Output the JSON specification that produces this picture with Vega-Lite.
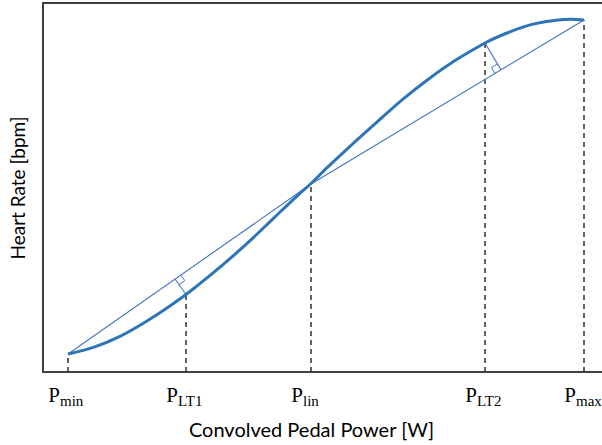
{
  "$schema": "https://vega.github.io/schema/vega-lite/v6.json",
  "width": 560,
  "height": 369,
  "autosize": "none",
  "padding": {"left": 43, "top": 3, "right": 0, "bottom": 73},
  "config": {
    "view": {"stroke": "#404040", "strokeWidth": 2},
    "axis": {"domain": false, "ticks": false, "labels": false, "grid": false, "titleFont": "Lato", "titleFontWeight": "normal", "titleFontSize": 19, "titleColor": "#000000"}
  },
  "datasets": {
    "curve": [
      {"x": 25, "y": 18}, {"x": 51, "y": 24.9}, {"x": 77, "y": 35.6}, {"x": 102, "y": 49.7},
      {"x": 128, "y": 66.7}, {"x": 143, "y": 77.5}, {"x": 154, "y": 86.1}, {"x": 180, "y": 107.4},
      {"x": 206, "y": 130.3}, {"x": 231, "y": 154.2}, {"x": 257, "y": 178.7}, {"x": 268, "y": 188.5},
      {"x": 283, "y": 203.3}, {"x": 309, "y": 227.5}, {"x": 335, "y": 250.9}, {"x": 360, "y": 272.9},
      {"x": 386, "y": 293.3}, {"x": 412, "y": 311.4}, {"x": 438, "y": 326.8}, {"x": 442, "y": 329},
      {"x": 464, "y": 339}, {"x": 489, "y": 347.6}, {"x": 515, "y": 352.1}, {"x": 528, "y": 352.7},
      {"x": 541, "y": 352}
    ],
    "chord": [{"x": 25, "y": 18}, {"x": 268, "y": 188}, {"x": 541, "y": 352}],
    "marks": [
      {"sub": "min", "x": 25, "y": 18},
      {"sub": "LT1", "x": 143, "y": 77.5},
      {"sub": "lin", "x": 268, "y": 188},
      {"sub": "LT2", "x": 442, "y": 329},
      {"sub": "max", "x": 541, "y": 352}
    ],
    "perps": [
      {"id": "LT1", "x": 143, "y": 77.5, "xe": 132, "ye": 93},
      {"id": "LT2", "x": 442, "y": 329, "xe": 458, "ye": 302.1}
    ],
    "squares": [
      {"id": "LT1", "k": 1, "x": 137.7, "y": 97.1},
      {"id": "LT1", "k": 2, "x": 141.8, "y": 91.4},
      {"id": "LT1", "k": 3, "x": 136.1, "y": 87.3},
      {"id": "LT2", "k": 1, "x": 452.0, "y": 298.5},
      {"id": "LT2", "k": 2, "x": 448.4, "y": 304.5},
      {"id": "LT2", "k": 3, "x": 454.4, "y": 308.1}
    ]
  },
  "encoding": {
    "x": {"field": "x", "type": "quantitative", "scale": {"domain": [0, 560], "nice": false, "zero": false}, "axis": {"title": "Convolved Pedal Power [W]", "titleFontSize": 20, "titleBaseline": "alphabetic", "titlePadding": 64, "titleX": 268}},
    "y": {"field": "y", "type": "quantitative", "scale": {"domain": [0, 369], "nice": false, "zero": false}, "axis": {"title": "Heart Rate [bpm]", "titleBaseline": "alphabetic", "titlePadding": 19}}
  },
  "layer": [
    {
      "data": {"name": "marks"},
      "mark": {"type": "rule", "color": "#303030", "strokeWidth": 1.5, "strokeDash": [5, 4]},
      "encoding": {"y": {"datum": 0}, "y2": {"field": "y"}}
    },
    {
      "data": {"name": "chord"},
      "mark": {"type": "line", "color": "#4472C4", "strokeWidth": 1.1},
      "encoding": {}
    },
    {
      "data": {"name": "perps"},
      "mark": {"type": "rule", "color": "#4472C4", "strokeWidth": 1.1},
      "encoding": {"x2": {"field": "xe"}, "y2": {"field": "ye"}}
    },
    {
      "data": {"name": "squares"},
      "mark": {"type": "line", "color": "#4472C4", "strokeWidth": 1},
      "encoding": {"detail": {"field": "id"}, "order": {"field": "k"}}
    },
    {
      "data": {"name": "curve"},
      "mark": {"type": "line", "color": "#2E75B6", "strokeWidth": 3, "interpolate": "monotone"},
      "encoding": {}
    },
    {
      "data": {"name": "marks"},
      "mark": {"type": "text", "font": "Liberation Serif", "fontSize": 21, "align": "right", "baseline": "alphabetic", "dx": -8, "color": "#000000"},
      "encoding": {"y": {"datum": -30}, "text": {"value": "P"}}
    },
    {
      "data": {"name": "marks"},
      "mark": {"type": "text", "font": "Liberation Serif", "fontSize": 15, "align": "left", "baseline": "alphabetic", "dx": -8, "color": "#000000"},
      "encoding": {"y": {"datum": -34}, "text": {"field": "sub"}}
    }
  ]
}
